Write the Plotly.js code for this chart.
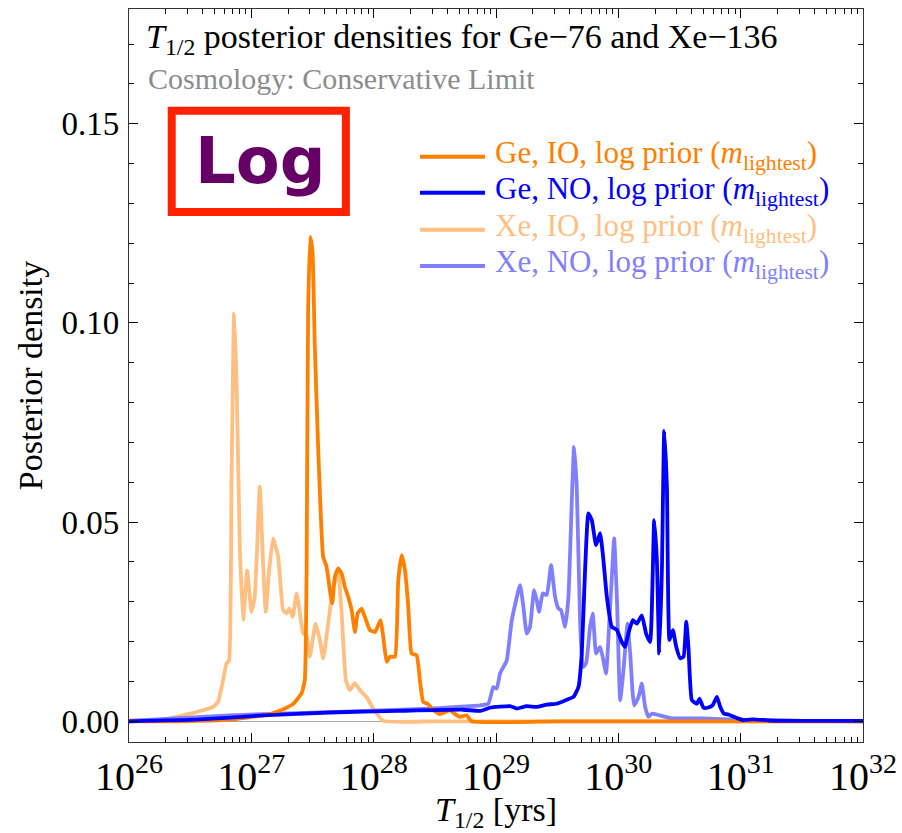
<!DOCTYPE html>
<html>
<head>
<meta charset="utf-8">
<script src="https://cdn.plot.ly/plotly-3.0.1.min.js"></script>
<style>
  html, body { margin: 0; padding: 0; background: #fff; }
  #chart { width: 902px; height: 833px; }
</style>
</head>
<body>
<div id="chart"></div>
<script>
// ---- Data (x given as log10 of T1/2 in years) ----
const geIO_log10T = [26.0, 26.42, 26.82, 27.10, 27.23, 27.34, 27.41, 27.437, 27.451, 27.464, 27.481, 27.50, 27.519, 27.546, 27.587, 27.615, 27.642, 27.661, 27.683, 27.71, 27.738, 27.765, 27.792, 27.82, 27.847, 27.869, 27.901, 27.928, 27.969, 28.01, 28.057, 28.078, 28.106, 28.133, 28.174, 28.201, 28.229, 28.256, 28.283, 28.31, 28.351, 28.378, 28.405, 28.446, 28.487, 28.542, 28.583, 28.624, 28.665, 28.706, 28.76, 28.801, 29.5, 30.5, 31.5, 32.0];
const geIO_density = [0, 0, 0.0004, 0.0015, 0.0026, 0.0043, 0.007, 0.0103, 0.0354, 0.1024, 0.1216, 0.118, 0.094, 0.0689, 0.0413, 0.0388, 0.0329, 0.0296, 0.0363, 0.0384, 0.0371, 0.0337, 0.0312, 0.0279, 0.0224, 0.0271, 0.0283, 0.0262, 0.0229, 0.0224, 0.0254, 0.0212, 0.0149, 0.0162, 0.0162, 0.0354, 0.0417, 0.0379, 0.0287, 0.017, 0.0166, 0.0103, 0.0049, 0.0043, 0.0028, 0.0018, 0.0023, 0.0028, 0.0018, 0.0011, 0.0015, 0, 0, 0, 0, 0];

const geNO_log10T = [26.0, 26.55, 27.1, 27.64, 28.19, 28.73, 28.87, 28.95, 29.115, 29.169, 29.251, 29.333, 29.415, 29.497, 29.579, 29.633, 29.674, 29.701, 29.728, 29.755, 29.783, 29.818, 29.851, 29.878, 29.906, 29.947, 29.988, 30.028, 30.055, 30.082, 30.118, 30.151, 30.192, 30.227, 30.26, 30.293, 30.315, 30.334, 30.356, 30.375, 30.397, 30.418, 30.446, 30.473, 30.506, 30.533, 30.555, 30.573, 30.601, 30.642, 30.663, 30.696, 30.729, 30.77, 30.806, 30.833, 30.865, 30.9, 30.969, 31.023, 31.105, 31.242, 31.514, 32.0];
const geNO_density = [0, 0.0004, 0.0015, 0.0022, 0.0026, 0.0029, 0.0026, 0.0034, 0.0038, 0.0032, 0.0038, 0.0036, 0.0042, 0.0044, 0.0054, 0.0061, 0.0086, 0.017, 0.0379, 0.0522, 0.0505, 0.0442, 0.0472, 0.0405, 0.0312, 0.0237, 0.0229, 0.0199, 0.0187, 0.022, 0.0254, 0.0245, 0.0266, 0.022, 0.0199, 0.0505, 0.0405, 0.017, 0.0379, 0.0729, 0.0589, 0.0204, 0.0229, 0.0187, 0.0158, 0.0162, 0.025, 0.0187, 0.0053, 0.0044, 0.0057, 0.0034, 0.0034, 0.004, 0.0061, 0.0036, 0.0019, 0.0017, 0.0008, 0.0003, 0.0005, 0.0002, 0.0001, 0.0001];

const xeIO_log10T = [26.0, 26.28, 26.55, 26.687, 26.728, 26.769, 26.797, 26.818, 26.838, 26.859, 26.879, 26.906, 26.933, 26.966, 27.001, 27.028, 27.069, 27.096, 27.118, 27.145, 27.178, 27.219, 27.26, 27.288, 27.309, 27.337, 27.37, 27.397, 27.424, 27.451, 27.478, 27.525, 27.56, 27.587, 27.628, 27.669, 27.71, 27.738, 27.773, 27.806, 27.846, 27.887, 27.942, 27.996, 28.078, 28.5, 30.0, 32.0];
const xeIO_density = [0.0002, 0.0004, 0.0023, 0.0036, 0.0049, 0.0103, 0.0145, 0.0153, 0.0606, 0.1024, 0.0857, 0.0438, 0.0254, 0.0379, 0.0275, 0.0312, 0.0589, 0.0396, 0.0275, 0.0379, 0.0459, 0.0413, 0.0279, 0.0271, 0.0283, 0.0262, 0.0321, 0.0271, 0.022, 0.0216, 0.0162, 0.0245, 0.0204, 0.0158, 0.0245, 0.0337, 0.0371, 0.0271, 0.0103, 0.0078, 0.0096, 0.0078, 0.0061, 0.0032, 0.0001, 0, 0, 0];

const xeNO_log10T = [26.0, 26.82, 27.64, 28.46, 28.787, 28.869, 28.937, 28.978, 29.006, 29.033, 29.06, 29.088, 29.129, 29.197, 29.224, 29.251, 29.278, 29.311, 29.333, 29.352, 29.382, 29.415, 29.45, 29.483, 29.51, 29.532, 29.565, 29.592, 29.619, 29.638, 29.66, 29.687, 29.709, 29.736, 29.769, 29.791, 29.818, 29.851, 29.878, 29.9, 29.927, 29.947, 29.966, 29.988, 30.015, 30.042, 30.075, 30.097, 30.129, 30.165, 30.192, 30.219, 30.246, 30.274, 30.424, 30.696, 30.969, 31.514, 32.0];
const xeNO_density = [0.0001, 0.0015, 0.0023, 0.0032, 0.0038, 0.004, 0.0044, 0.0086, 0.0082, 0.012, 0.0136, 0.0153, 0.0254, 0.0342, 0.0287, 0.022, 0.0237, 0.0329, 0.0304, 0.0275, 0.0321, 0.0317, 0.0392, 0.0312, 0.0283, 0.0279, 0.0237, 0.0312, 0.0547, 0.0689, 0.0589, 0.0254, 0.0136, 0.0145, 0.0237, 0.0271, 0.017, 0.0187, 0.0153, 0.012, 0.0254, 0.0363, 0.0459, 0.0312, 0.0053, 0.0128, 0.0245, 0.017, 0.004, 0.0061, 0.0095, 0.0036, 0.0011, 0.0019, 0.0008, 0.0007, 0.0004, 0.0001, 0];

const seriesNames = [
  'Ge, IO, log prior (<i>m</i><sub>lightest</sub>)',
  'Ge, NO, log prior (<i>m</i><sub>lightest</sub>)',
  'Xe, IO, log prior (<i>m</i><sub>lightest</sub>)',
  'Xe, NO, log prior (<i>m</i><sub>lightest</sub>)'
];
const seriesColors = ['#FF8000', '#0000FF', '#FFBF80', '#8080FF'];
const yTickValues = [0, 0.05, 0.10, 0.15];

const titleText = '<i>T</i><sub>1/2</sub> posterior densities for Ge\u221276 and Xe\u2212136';
const subtitleText = 'Cosmology: Conservative Limit';
const xTitle = '<i>T</i><sub>1/2</sub> [yrs]';
const yTitle = 'Posterior density';
const stampText = 'Log';

// ---- Build traces ----
const toT = arr => arr.map(e => Math.pow(10, e));
const xs = [geIO_log10T, geNO_log10T, xeIO_log10T, xeNO_log10T];
const ys = [geIO_density, geNO_density, xeIO_density, xeNO_density];

const SERIF = "'Liberation Serif', 'Times New Roman', Times, serif";

const makeTrace = i => ({
  type: 'scatter',
  mode: 'lines',
  x: toT(xs[i]),
  y: ys[i],
  name: seriesNames[i],
  line: { color: seriesColors[i], width: 3.8, shape: 'spline', smoothing: 0.4 },
  showlegend: false,
  hoverinfo: 'x+y'
});
// light (Xe) curves underneath, Ge curves on top, as in the reference
const traces = [makeTrace(2), makeTrace(3), makeTrace(0), makeTrace(1)];

// ---- Hand-made legend (matches the reference's tight spacing) ----
const legendRowsY = [0.7983, 0.7492, 0.6987, 0.6495];
const shapes = [];
const annotations = [];
legendRowsY.forEach((yy, i) => {
  shapes.push({
    type: 'line', xref: 'paper', yref: 'paper',
    x0: 0.3964, x1: 0.485, y0: yy, y1: yy,
    line: { color: seriesColors[i], width: 4 }
  });
  annotations.push({
    xref: 'paper', yref: 'paper', x: 0.4959, y: yy + 0.002,
    xanchor: 'left', yanchor: 'middle', showarrow: false,
    text: seriesNames[i],
    font: { family: SERIF, size: 31, color: seriesColors[i] }
  });
});

// red "Log" stamp box
shapes.push({
  type: 'rect', xref: 'paper', yref: 'paper',
  x0: 0.0582, x1: 0.2955, y0: 0.7232, y1: 0.8611,
  line: { color: '#FF2200', width: 8 }, fillcolor: 'rgba(255,255,255,0)'
});
annotations.push({
  xref: 'paper', yref: 'paper', x: 0.179, y: 0.792,
  xanchor: 'center', yanchor: 'middle', showarrow: false,
  text: '<b>' + stampText + '</b>',
  font: { family: "'DejaVu Sans', sans-serif", size: 64, color: '#660066' }
});

// subtitle
annotations.push({
  xref: 'paper', yref: 'paper', x: 0.0232, y: 0.9055,
  xanchor: 'left', yanchor: 'middle', showarrow: false,
  text: subtitleText,
  font: { family: SERIF, size: 30, color: '#8c8c8c' }
});

const layout = {
  width: 902, height: 833,
  autosize: false,
  margin: { l: 129, r: 39, t: 9, b: 91, pad: 0 },
  paper_bgcolor: '#ffffff',
  plot_bgcolor: '#ffffff',
  showlegend: false,
  title: {
    text: titleText,
    font: { family: SERIF, size: 34, color: '#000' },
    xref: 'container', yref: 'container',
    x: 146 / 902, xanchor: 'left',
    y: 1 - 36 / 833, yanchor: 'middle'
  },
  xaxis: {
    type: 'log',
    range: [26, 32],
    dtick: 1,
    exponentformat: 'power',
    showexponent: 'all',
    ticks: 'inside', ticklen: 9, tickwidth: 1, tickcolor: '#000',
    minor: { ticks: 'inside', ticklen: 5, tickwidth: 1, tickcolor: '#000', dtick: 'D1', showgrid: false },
    showline: true, linecolor: '#333', linewidth: 1.2, mirror: 'allticks',
    showgrid: false, zeroline: false,
    tickfont: { family: SERIF, size: 32, color: '#000' },
    title: { text: xTitle, font: { family: SERIF, size: 34, color: '#000' }, standoff: 20 }
  },
  yaxis: {
    range: [-0.0052, 0.1788],
    tickvals: yTickValues,
    tickformat: '.2f',
    ticks: 'inside', ticklen: 9, tickwidth: 1, tickcolor: '#000',
    minor: { ticks: 'inside', ticklen: 5, tickwidth: 1, tickcolor: '#000', dtick: 0.01, showgrid: false },
    showline: true, linecolor: '#333', linewidth: 1.2, mirror: 'allticks',
    showgrid: false,
    zeroline: true, zerolinecolor: '#a8a8a8', zerolinewidth: 1.5,
    tickfont: { family: SERIF, size: 33, color: '#000' },
    ticklabelstandoff: 2,
    title: { text: yTitle, font: { family: SERIF, size: 34, color: '#000' }, standoff: 8 }
  },
  shapes: shapes,
  annotations: annotations
};

Plotly.newPlot('chart', traces, layout, { displayModeBar: false, staticPlot: true });
</script>
</body>
</html>
